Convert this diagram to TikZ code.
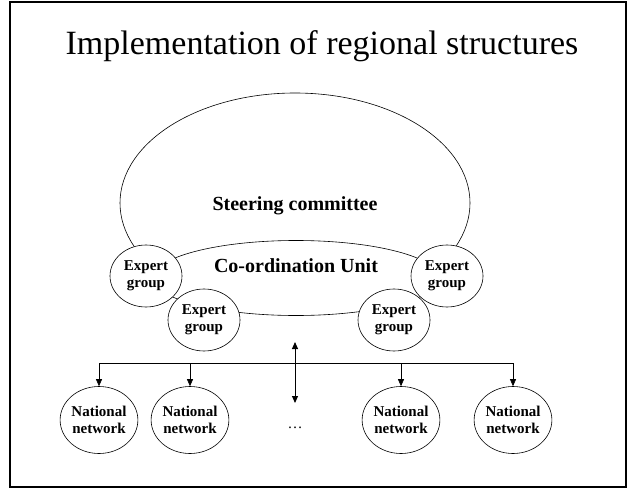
\documentclass[tikz,border=0pt]{standalone}
\usepackage{fontspec}
\setmainfont{Liberation Serif}
\usetikzlibrary{arrows.meta}
\usetikzlibrary{shapes.geometric}

\begin{document}
\begin{tikzpicture}[x=1pt,y=-1pt,
  >={Triangle[length=7pt,width=6pt]},
  grp/.style={ellipse,draw,fill=white,line width=0.6pt,inner sep=0pt,
    minimum width=72pt,minimum height=62pt,align=center,
    font=\fontsize{15}{17}\selectfont\bfseries},
  netw/.style={ellipse,draw,line width=0.6pt,inner sep=0pt,
    minimum width=76pt,minimum height=67pt,align=center,
    font=\fontsize{15}{17}\selectfont\bfseries}]
  \useasboundingbox (0,0) rectangle (628,489);
  \draw[line width=1.6pt] (10,2) rectangle (626,487);
  \node (title) at (322,46) {\fontsize{34}{40}\selectfont Implementation of regional structures};
  % committee and unit
  \node[ellipse,draw,line width=0.6pt,minimum width=350pt,minimum height=220pt] (steer) at (295,203) {};
  \node[font=\fontsize{20}{24}\selectfont\bfseries] (steertxt) at (295,206) {Steering committee};
  \node[ellipse,draw,fill=white,line width=0.6pt,minimum width=286pt,minimum height=75pt] (unit) at (296,278) {};
  \node[font=\fontsize{20}{24}\selectfont\bfseries] (unittxt) at (296,266) {Co-ordination Unit};
  \node[grp] (grp1) at (146,276) {Expert\\group};
  \node[grp] (grp4) at (447,276) {Expert\\group};
  \node[grp] (grp2) at (204,320) {Expert\\group};
  \node[grp] (grp3) at (394,320) {Expert\\group};
  % networks
  \node[netw] (net1) at (99,420) {National\\network};
  \node[netw] (net2) at (190,420) {National\\network};
  \node[netw] (net3) at (401,420) {National\\network};
  \node[netw] (net4) at (513,420) {National\\network};
  \node[font=\fontsize{15}{17}\selectfont] (dots) at (295,428) {\dots};
  \coordinate (up) at (295,342);
  \coordinate (down) at (295,403);
  \draw[<->,line width=1pt] (up) -- (down);
  \coordinate (b1) at (99,363);
  \coordinate (b2) at (190,363);
  \coordinate (b3) at (401,363);
  \coordinate (b4) at (513,363);
  \draw[line width=0.8pt] (b1) -- (b4);
  \foreach \i in {1,...,4}
    \draw[->,line width=0.6pt] (b\i) -- (net\i);
\end{tikzpicture}
\end{document}
